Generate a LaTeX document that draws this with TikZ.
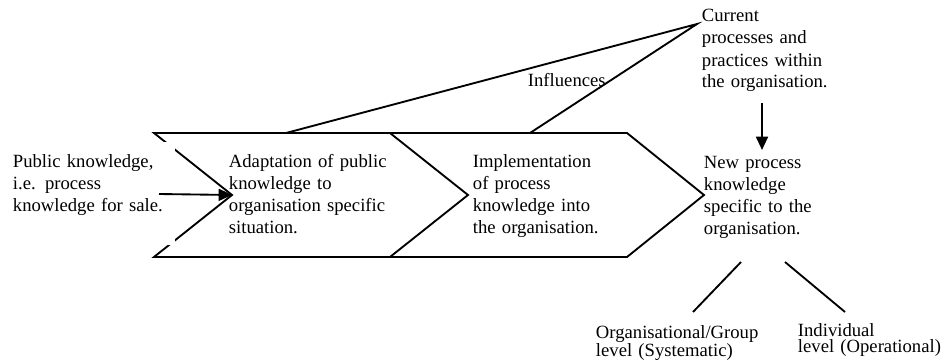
\documentclass[tikz,border=0pt]{standalone}
\usepackage{fontspec}
\setmainfont{Liberation Serif}
\usetikzlibrary{arrows.meta}

\begin{document}
\begin{tikzpicture}[x=0.75pt,y=-0.75pt,line width=1.4pt,
  txt/.style={font=\fontsize{14}{16.5}\selectfont,align=left,inner sep=0pt,anchor=base west,text width=#1},
  txt/.default=130pt,
  arr/.style={-{Triangle[length=10pt,width=9pt]}}]
\useasboundingbox (0,0) rectangle (941,360);

% chevron corners
\coordinate (tl) at (154,133);
\coordinate (tm) at (390,133);
\coordinate (tr) at (627,133);
\coordinate (notch) at (232,195);
\coordinate (tip1) at (468,195);
\coordinate (tip2) at (704,195);
\coordinate (bl) at (154,257);
\coordinate (bm) at (390,257);
\coordinate (br) at (627,257);
\draw (tl) -- (tm) -- (tip1) -- (bm) -- (bl) -- (notch) -- cycle;
\draw (tm) -- (tr) -- (tip2) -- (br) -- (bm);

% text boxes
\node[txt=121.5pt,fill=white,text height=18.75pt,text depth=58.5pt] (pub) at (12,167)
  {Public knowledge,\\i.e. process\\knowledge for sale.};
\node[txt] (adapt) at (228,167) {Adaptation of public\\knowledge to\\organisation specific\\situation.};
\node[txt] (impl) at (472,167) {Implementation\\of process\\knowledge into\\the organisation.};
\node[txt] (newk) at (703,168) {New process\\knowledge\\specific to the\\organisation.};
\node[txt] (cur) at (701,22) {Current\\processes and\\practices within\\the organisation.};
\node[txt] (infl) at (527,86) {Influences};
\node[txt,font=\fontsize{14}{12.5}\selectfont] (org) at (595,338) {Organisational/Group\\level (Systematic)};
\node[txt,font=\fontsize{14}{12.5}\selectfont] (ind) at (797,336) {Individual\\level (Operational)};

% influences
\coordinate (top) at (697,24);
\coordinate (in1) at (286,133);
\coordinate (in2) at (530,133);
\draw (in1) -- (top) -- (in2);

% arrows
\coordinate (src) at (159,194);
\draw[arr] (src) -- (notch);
\draw[arr] (762,103) -- (762,150);

% levels
\coordinate (sl) at (741,262);
\coordinate (sr) at (785,262);
\draw (sl) -- (693,312);
\draw (sr) -- (845,312);
\end{tikzpicture}
\end{document}
